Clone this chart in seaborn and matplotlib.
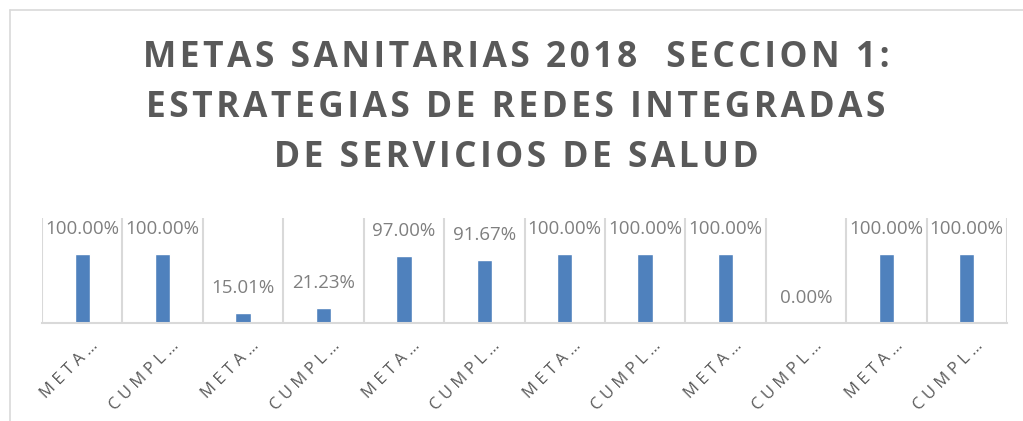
import matplotlib.pyplot as plt
from matplotlib.lines import Line2D
import pandas as pd
import seaborn as sns

# Chart values
categories = ["META…", "CUMPL…", "META…", "CUMPL…", "META…", "CUMPL…",
              "META…", "CUMPL…", "META…", "CUMPL…", "META…", "CUMPL…"]
values = [1.0, 1.0, 0.1501, 0.2123, 0.97, 0.9167,
          1.0, 1.0, 1.0, 0.0, 1.0, 1.0]
title_lines = ["METAS SANITARIAS 2018  SECCION 1:",
               "ESTRATEGIAS DE REDES INTEGRADAS",
               "DE SERVICIOS DE SALUD"]

BAR_COLOR = "#4F81BD"
TEXT_GRAY = "#595959"
LABEL_GRAY = "#7F7F7F"
GRID_GRAY = "#D9D9D9"

sns.set_theme(style="white")
plt.rcParams['font.family'] = ['Open Sans', 'DejaVu Sans']

df = pd.DataFrame({"pos": range(len(values)), "value": values})

fig = plt.figure(figsize=(10.23, 4.21), dpi=100)
ax = fig.add_axes([42 / 1023, 1 - 323 / 421, (1007 - 42) / 1023, 105 / 421])

sns.barplot(data=df, x="pos", y="value", color=BAR_COLOR, width=0.19,
            saturation=1, ax=ax)

ax.set_ylim(0, 1.52)
ax.set_xlim(-0.5, len(values) - 0.5)
ax.set_yticks([])
ax.set_xticks([])
ax.set_ylabel("")
ax.set_xlabel("")

# category separators
for i in range(len(values) + 1):
    ax.axvline(i - 0.5, color=GRID_GRAY, lw=1.5, zorder=0)

for side in ["top", "right", "left"]:
    ax.spines[side].set_visible(False)
ax.spines["bottom"].set_color(GRID_GRAY)
ax.spines["bottom"].set_linewidth(1.5)

# data labels
for i, v in enumerate(values):
    ax.annotate(f"{v * 100:.2f}%", (i, v), xytext=(0, 11.5), textcoords="offset points",
                ha="center", va="bottom", fontsize=13.5, color=LABEL_GRAY)

# category labels, rotated with spaced letters
for i, c in enumerate(categories):
    ax.annotate(" ".join(c), (i, 0), xycoords=("data", "axes fraction"),
                xytext=(10, -15), textcoords="offset points", rotation=45,
                rotation_mode="anchor", ha="right", va="center",
                fontsize=12, color=TEXT_GRAY, family="Open Sans")

# title, letter spaced
for k, line in enumerate(title_lines):
    fig.text(516 / 1023, 1 - (58 + 50 * k) / 421, "\u200a".join(line), ha="center",
             va="center", fontsize=25.5, fontweight="bold", color=TEXT_GRAY)

# chart border
fig.add_artist(Line2D([9.5 / 1023, 9.5 / 1023], [0, 1 - 9.5 / 421], color=GRID_GRAY, lw=1.2,
                      transform=fig.transFigure))
fig.add_artist(Line2D([9.5 / 1023, 1], [1 - 9.5 / 421, 1 - 9.5 / 421], color=GRID_GRAY, lw=1.2,
                      transform=fig.transFigure))

fig.savefig("out.png", dpi=100)
plt.close(fig)
